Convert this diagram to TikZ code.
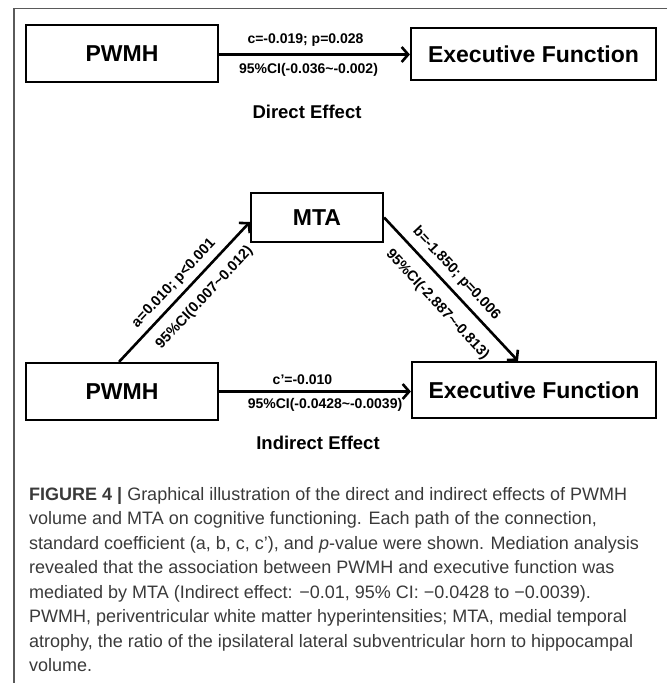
\documentclass[tikz,border=0pt]{standalone}
\usepackage{fontspec}
\setmainfont{Liberation Sans}
\usepackage{xcolor}
\usetikzlibrary{arrows.meta}
\definecolor{framegray}{HTML}{5A5A5A}
\definecolor{capgray}{HTML}{3A3A3A}
\tikzset{
 varbox/.style={draw,line width=2.2pt,inner sep=0pt,font=\fontsize{23}{25}\selectfont\bfseries},
 coef/.style={font=\fontsize{14}{16}\selectfont\bfseries,inner sep=0pt},
 slopecoef/.style={coef,sloped,font=\fontsize{14.5}{16}\selectfont\bfseries},
 effect/.style={font=\fontsize{18.5}{20}\selectfont\bfseries},
 pathway/.style={line width=2.6pt,-{Straight Barb[length=6.5pt,width=15pt]}}
}

\begin{document}
\begin{tikzpicture}[x=1pt,y=-1pt]
\useasboundingbox (0,0) rectangle (667,683);
\draw[framegray,line width=1.2pt] (667,8.5) -- (14,8.5) -- (14,683);

\node[varbox,minimum width=192pt,minimum height=57pt] (pwmhA) at (122,53.5) {PWMH};
\node[varbox,minimum width=245pt,minimum height=52pt] (execA) at (533.5,54) {Executive Function};
\draw[pathway] ([yshift=-1pt]pwmhA.east) -- node[coef,midway,above=7pt,xshift=-9pt]{c=-0.019; p=0.028}
 node[coef,midway,below=8pt,xshift=-6pt]{95\%CI(-0.036\textasciitilde-0.002)} ([yshift=-0.5pt]execA.west);
\node[effect] (direct) at (307,112) {Direct Effect};

\node[varbox,minimum width=132pt,minimum height=49pt] (mta) at (317,217.5) {MTA};
\node[varbox,minimum width=192pt,minimum height=57pt] (pwmhB) at (122,391.5) {PWMH};
\node[varbox,minimum width=244pt,minimum height=56pt] (execB) at (534,390) {Executive Function};
\draw[pathway] ([xshift=-3pt]pwmhB.north) -- node[slopecoef,pos=0.495,above=5.5pt]{a=0.010; p<0.001}
 node[slopecoef,pos=0.55,below=10.5pt]{95\%CI(0.007\textasciitilde0.012)} ([yshift=-4.5pt]mta.west);
\draw[pathway] (mta.east) -- node[slopecoef,pos=0.46,above=6.5pt]{b=-1.850; p=0.006}
 node[slopecoef,pos=0.51,below=12.5pt]{95\%CI(-2.887\textasciitilde-0.813)} ([xshift=-16pt]execB.north);
\draw[pathway] (pwmhB.east) -- node[coef,midway,above=6pt,xshift=-12.5pt]{c’=-0.010}
 node[coef,midway,below=6pt,xshift=10pt]{95\%CI(-0.0428\textasciitilde-0.0039)} ([yshift=-1.5pt]execB.west);
\node[effect] (indirect) at (318,443) {Indirect Effect};

\node[anchor=north west,inner sep=0pt,align=left,text=capgray,font=\fontsize{18}{24.5}\selectfont] (caption) at (29,487)
{\textbf{FIGURE 4 |} Graphical illustration of the direct and indirect effects of PWMH\\
volume and MTA on cognitive functioning. Each path of the connection,\\
standard coefficient (a, b, c, c’), and \textit{p}-value were shown. Mediation analysis\\
revealed that the association between PWMH and executive function was\\
mediated by MTA (Indirect effect: −0.01, 95\% CI: −0.0428 to −0.0039).\\
PWMH, periventricular white matter hyperintensities; MTA, medial temporal\\
atrophy, the ratio of the ipsilateral lateral subventricular horn to hippocampal\\
volume.};
\end{tikzpicture}
\end{document}
